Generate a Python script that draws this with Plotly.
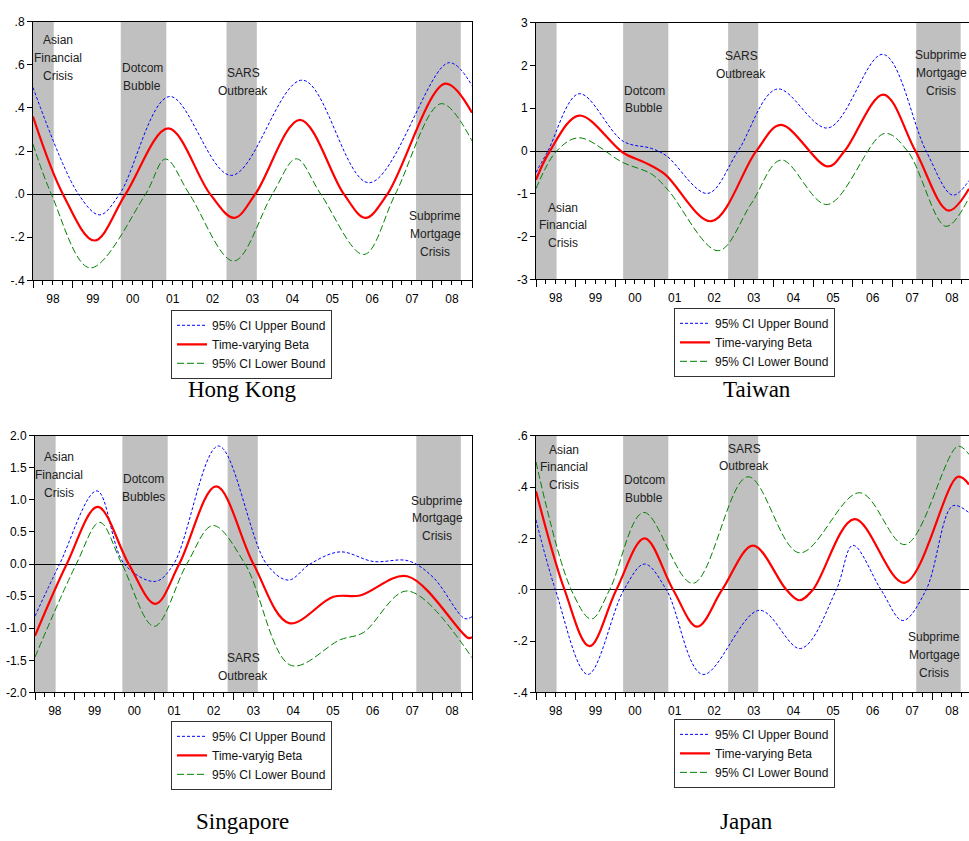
import plotly.graph_objects as go
from datetime import datetime

W, H = 969, 841

# ---------------- data (fractional years) ----------------
# Hong Kong
hk_upper_x = [1998.0, 1999.14, 1999.67, 2000.17, 2001.42, 2002.97, 2004.75, 2006.42, 2008.42, 2009.0]
hk_upper_y = [0.495, 0.0, -0.096, 0.0, 0.453, 0.087, 0.529, 0.053, 0.61, 0.503]
hk_beta_x = [1998.0, 1998.75, 1999.54, 2000.32, 2001.39, 2002.44, 2003.04, 2003.57, 2004.69, 2005.79, 2006.33, 2006.88, 2008.33, 2009.0]
hk_beta_y = [0.36, 0.0, -0.215, 0.0, 0.305, 0.0, -0.11, 0.0, 0.345, 0.0, -0.11, 0.0, 0.513, 0.378]
hk_lower_x = [1998.0, 1998.46, 1999.43, 2000.82, 2001.32, 2001.92, 2003.03, 2004.0, 2004.6, 2005.21, 2006.29, 2007.08, 2008.23, 2009.0]
hk_lower_y = [0.232, 0.0, -0.342, 0.0, 0.163, 0.0, -0.31, 0.0, 0.164, 0.0, -0.28, 0.0, 0.42, 0.247]

# Taiwan
tw_upper_x = [1998.0, 1998.3, 1999.09, 2000.2, 2000.92, 2001.29, 2002.33, 2003.1, 2004.09, 2005.37, 2006.76, 2007.85, 2008.52, 2008.93]
tw_upper_y = [-0.5, 0.0, 1.34, 0.23, 0.06, -0.11, -0.99, 0.0, 1.45, 0.54, 2.26, 0.0, -1.03, -0.69]
tw_beta_x = [1998.0, 1998.35, 1999.09, 2000.2, 2000.75, 2001.25, 2002.43, 2003.56, 2004.18, 2005.37, 2005.79, 2006.77, 2007.58, 2008.41, 2008.93]
tw_beta_y = [-0.67, 0.0, 0.83, -0.04, -0.27, -0.54, -1.64, 0.0, 0.61, -0.36, 0.0, 1.32, 0.0, -1.39, -0.88]
tw_lower_x = [1998.0, 1998.52, 1999.09, 2000.2, 2000.92, 2001.34, 2002.6, 2003.44, 2004.19, 2005.35, 2006.8, 2007.38, 2008.35, 2008.93]
tw_lower_y = [-0.88, 0.0, 0.31, -0.27, -0.54, -0.92, -2.33, -1.22, -0.21, -1.25, 0.41, 0.0, -1.76, -1.09]

# Singapore
sg_upper_x = [1998.0, 1998.62, 1999.56, 2000.25, 2001.03, 2001.49, 2002.62, 2003.83, 2004.38, 2004.92, 2005.68, 2006.52, 2007.4, 2008.03, 2008.82, 2009.0]
sg_upper_y = [-0.81, 0.0, 1.14, 0.0, -0.27, 0.0, 1.84, 0.0, -0.25, 0.0, 0.19, 0.04, 0.05, -0.21, -0.85, -0.82]
sg_beta_x = [1998.0, 1998.8, 1999.58, 2000.36, 2001.03, 2001.63, 2002.56, 2003.5, 2004.4, 2005.51, 2006.18, 2007.37, 2008.9, 2009.0]
sg_beta_y = [-1.12, 0.0, 0.89, 0.0, -0.62, 0.0, 1.21, 0.0, -0.92, -0.51, -0.49, -0.19, -1.15, -1.14]
sg_lower_x = [1998.0, 1999.04, 1999.63, 2000.19, 2001.0, 2001.82, 2002.48, 2003.29, 2004.45, 2005.68, 2006.26, 2007.37, 2009.0]
sg_lower_y = [-1.45, 0.0, 0.65, 0.0, -0.97, 0.0, 0.6, 0.0, -1.58, -1.18, -1.07, -0.42, -1.46]

# Japan
jp_upper_x = [1998.0, 1998.49, 1999.31, 2000.22, 2000.74, 2001.29, 2002.21, 2003.64, 2004.68, 2005.58, 2006.0, 2006.71, 2007.26, 2007.85, 2008.52, 2008.93]
jp_upper_y = [0.272, 0.0, -0.33, 0.0, 0.1, 0.0, -0.33, -0.08, -0.229, 0.0, 0.173, 0.0, -0.12, 0.0, 0.327, 0.30]
jp_beta_x = [1998.0, 1998.72, 1999.35, 2000.03, 2000.74, 2001.46, 2002.07, 2002.7, 2003.48, 2004.32, 2004.65, 2004.99, 2006.04, 2007.3, 2008.65, 2008.93]
jp_beta_y = [0.384, 0.0, -0.22, 0.0, 0.2, 0.0, -0.144, 0.0, 0.172, 0.0, -0.041, 0.0, 0.275, 0.027, 0.44, 0.41]
jp_lower_x = [1998.0, 1998.89, 1999.4, 1999.86, 2000.72, 2001.96, 2003.35, 2004.65, 2006.17, 2007.32, 2008.65, 2008.93]
jp_lower_y = [0.498, 0.0, -0.114, 0.0, 0.301, 0.025, 0.44, 0.144, 0.378, 0.176, 0.559, 0.527]

# crisis periods (shaded)
event_start = [1998.0, 2000.2, 2002.85, 2007.6]
event_end = [1998.52, 2001.34, 2003.61, 2008.72]

# y ticks
hk_ticks = [-0.4, -0.2, 0.0, 0.2, 0.4, 0.6, 0.8]
hk_ticktext = ["-.4", "-.2", ".0", ".2", ".4", ".6", ".8"]
tw_ticks = [-3, -2, -1, 0, 1, 2, 3]
tw_ticktext = ["-3", "-2", "-1", "0", "1", "2", "3"]
sg_ticks = [-2.0, -1.5, -1.0, -0.5, 0.0, 0.5, 1.0, 1.5, 2.0]
sg_ticktext = ["-2.0", "-1.5", "-1.0", "-0.5", "0.0", "0.5", "1.0", "1.5", "2.0"]
jp_ticks = [-0.4, -0.2, 0.0, 0.2, 0.4, 0.6]
jp_ticktext = ["-.4", "-.2", ".0", ".2", ".4", ".6"]

names_upper = "95% CI Upper Bound"
names_lower = "95% CI Lower Bound"


def to_date(y):
    yr = int(y)
    frac = y - yr
    a = datetime(yr, 1, 1)
    b = datetime(yr + 1, 1, 1)
    return a + (b - a) * frac


def px_x(p):
    return p / W


def px_y(p):
    return 1 - p / H


SANS = "Liberation Sans, Arial, sans-serif"
SERIF = "Liberation Serif, Times New Roman, serif"
LINE_GAP = 18

panels = [
    dict(title="Hong Kong", beta_name="Time-varying Beta",
         ux=hk_upper_x, uy=hk_upper_y, bx=hk_beta_x, by=hk_beta_y, lx=hk_lower_x, ly=hk_lower_y,
         xd=(33, 472), yd=(15, 278), xend=2009.0, yr=(-0.4, 0.8), tv=hk_ticks, tt=hk_ticktext,
         mirror=True, legend=(171, 343), title_pos=(242, 389),
         notes=[(["Asian", "Financial", "Crisis"], 58, 52), (["Dotcom", "Bubble"], 142, 71),
                (["SARS", "Outbreak"], 243, 76), (["Subprime", "Mortgage", "Crisis"], 435, 231)]),
    dict(title="Taiwan", beta_name="Time-varying Beta",
         ux=tw_upper_x, uy=tw_upper_y, bx=tw_beta_x, by=tw_beta_y, lx=tw_lower_x, ly=tw_lower_y,
         xd=(536, 969), yd=(16, 277), xend=2008.93, yr=(-3, 3), tv=tw_ticks, tt=tw_ticktext,
         mirror=False, legend=(674, 341), title_pos=(757, 389),
         notes=[(["Asian", "Financial", "Crisis"], 563, 222), (["Dotcom", "Bubble"], 644, 94),
                (["SARS", "Outbreak"], 741, 59), (["Subprime", "Mortgage", "Crisis"], 941, 67)]),
    dict(title="Singapore", beta_name="Time-varyig Beta",
         ux=sg_upper_x, uy=sg_upper_y, bx=sg_beta_x, by=sg_beta_y, lx=sg_lower_x, ly=sg_lower_y,
         xd=(35, 472), yd=(436, 697), xend=2009.0, yr=(-2, 2), tv=sg_ticks, tt=sg_ticktext,
         mirror=True, legend=(171, 761), title_pos=(242, 828),
         notes=[(["Asian", "Financial", "Crisis"], 59, 476), (["Dotcom", "Bubbles"], 143, 489),
                (["SARS", "Outbreak"], 243, 671), (["Subprime", "Mortgage", "Crisis"], 437, 520)]),
    dict(title="Japan", beta_name="Time-varying Beta",
         ux=jp_upper_x, uy=jp_upper_y, bx=jp_beta_x, by=jp_beta_y, lx=jp_lower_x, ly=jp_lower_y,
         xd=(536, 969), yd=(436, 697), xend=2008.93, yr=(-0.4, 0.6), tv=jp_ticks, tt=jp_ticktext,
         mirror=False, legend=(674, 759), title_pos=(746, 828),
         notes=[(["Asian", "Financial", "Crisis"], 564, 468), (["Dotcom", "Bubble"], 644, 490),
                (["SARS", "Outbreak"], 744, 458), (["Subprime", "Mortgage", "Crisis"], 934, 659)]),
]

fig = go.Figure()
layout = dict(width=W, height=H, margin=dict(l=0, r=0, t=0, b=0),
              paper_bgcolor="white", plot_bgcolor="white", showlegend=True)
shapes = []
annotations = []

for i, p in enumerate(panels):
    n = i + 1
    xa = "x" if n == 1 else f"x{n}"
    ya = "y" if n == 1 else f"y{n}"
    lg = "legend" if n == 1 else f"legend{n}"
    common = dict(xaxis=xa, yaxis=ya, legend=lg, mode="lines", line_shape="spline")
    fig.add_trace(go.Scatter(x=[to_date(v) for v in p["ux"]], y=p["uy"], name=names_upper,
                             line=dict(color="#0000FF", width=1, dash="3px,2px"), **common))
    fig.add_trace(go.Scatter(x=[to_date(v) for v in p["bx"]], y=p["by"], name=p["beta_name"],
                             line=dict(color="#FF0000", width=2.2), **common))
    fig.add_trace(go.Scatter(x=[to_date(v) for v in p["lx"]], y=p["ly"], name=names_lower,
                             line=dict(color="#008000", width=1, dash="7px,3px"), **common))

    xkey = "xaxis" if n == 1 else f"xaxis{n}"
    ykey = "yaxis" if n == 1 else f"yaxis{n}"
    layout[xkey] = dict(
        domain=[px_x(p["xd"][0]), min(1.0, px_x(p["xd"][1]))],
        anchor=ya, type="date",
        range=[to_date(1998.0), to_date(p["xend"])],
        tick0="1998-01-01", dtick="M12", tickformat="%y", ticklabelmode="period",
        ticks="outside", ticklen=7, tickcolor="black", tickwidth=1,
        minor=dict(dtick="M3", tick0="1998-01-01", ticks="outside", ticklen=4,
                   tickcolor="black", showgrid=False),
        showgrid=False, zeroline=False, showline=True, linecolor="black", linewidth=1,
        mirror=True, tickfont=dict(family=SANS, size=12, color="black"),
    )
    layout[ykey] = dict(
        domain=[px_y(p["yd"][1]), px_y(p["yd"][0])],
        anchor=xa, range=list(p["yr"]), tickmode="array", tickvals=p["tv"], ticktext=p["tt"],
        ticks="outside", ticklen=5, tickcolor="black", showgrid=False,
        zeroline=True, zerolinecolor="black", zerolinewidth=1,
        showline=True, linecolor="black", linewidth=1, mirror=p["mirror"],
        tickfont=dict(family=SANS, size=12, color="black"),
    )
    layout[lg] = dict(
        x=px_x(p["legend"][0]), y=px_y(p["legend"][1]), xanchor="left", yanchor="middle",
        bgcolor="white", bordercolor="#333333", borderwidth=1,
        font=dict(family=SANS, size=12, color="#111111"), traceorder="normal",
        itemwidth=30, tracegroupgap=0,
    )
    for s, e in zip(event_start, event_end):
        shapes.append(dict(type="rect", xref=xa, yref=f"{ya} domain",
                           x0=to_date(s), x1=to_date(e), y0=0, y1=1,
                           fillcolor="#C0C0C0", line=dict(width=0), layer="below"))
    for lines, ax_, ay_ in p["notes"]:
        k = len(lines)
        for j, txt in enumerate(lines):
            yy = ay_ + (j - (k - 1) / 2) * LINE_GAP
            annotations.append(dict(text=txt, x=px_x(ax_), y=px_y(yy), xref="paper", yref="paper",
                                    xanchor="center", yanchor="middle", showarrow=False,
                                    font=dict(family=SANS, size=12, color="#222222")))
    annotations.append(dict(text=p["title"], x=px_x(p["title_pos"][0]), y=px_y(p["title_pos"][1]),
                            xref="paper", yref="paper", xanchor="center", yanchor="middle",
                            showarrow=False, font=dict(family=SERIF, size=23, color="black")))

layout["shapes"] = shapes
layout["annotations"] = annotations
fig.update_layout(**layout)
fig.write_html("out.html", config={"displayModeBar": False},
               post_script="document.body.style.margin='0';document.body.style.overflow='hidden';")
